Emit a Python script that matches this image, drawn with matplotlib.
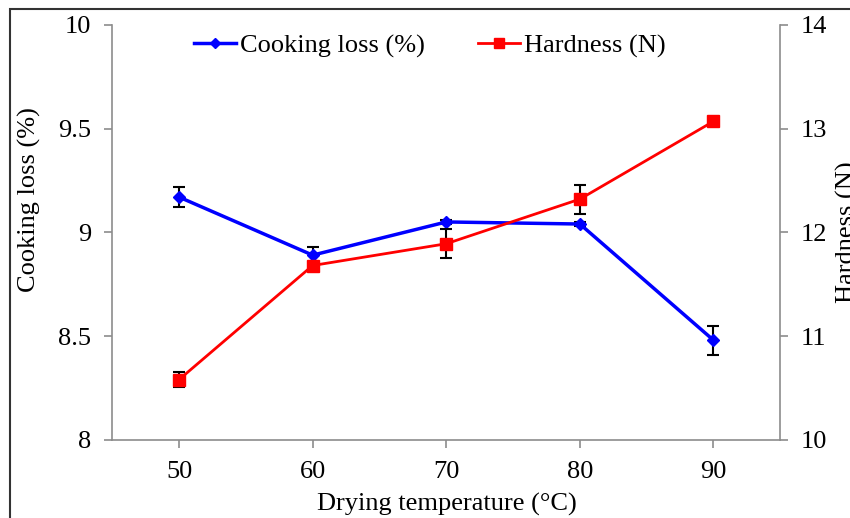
import matplotlib.pyplot as plt
from matplotlib.lines import Line2D
from matplotlib.patches import Rectangle

plt.rcParams['font.family'] = ['Liberation Serif', 'DejaVu Serif']

temps = [50, 60, 70, 80, 90]
cooking_loss = [9.17, 8.89, 9.05, 9.04, 8.48]
cooking_err = [0.05, 0.04, 0.01, 0.01, 0.07]
hardness = [10.58, 11.68, 11.89, 12.32, 13.07]
hardness_err = [0.07, 0.02, 0.14, 0.14, 0.02]

fs = 19
grey = '#8c8c8c'
blue = '#0000ff'
red = '#ff0000'

fig = plt.figure(figsize=(8.5, 5.18), dpi=100)
ax = fig.add_axes([0.132, 0.151, 0.786, 0.801])
ax2 = ax.twinx()

ax.errorbar(temps, cooking_loss, yerr=cooking_err, color=blue, lw=2.5,
            marker='D', ms=6, ecolor='black', elinewidth=1.5, capsize=4,
            capthick=1.5, zorder=3)
ax2.errorbar(temps, hardness, yerr=hardness_err, color=red, lw=2,
             marker='s', ms=8, ecolor='black', elinewidth=1.5, capsize=4,
             capthick=1.5, zorder=3)

ax.set_xlim(45, 95)
ax.set_ylim(8, 10)
ax2.set_ylim(10, 14)
ax.set_xticks(temps)
ax.set_yticks([8, 8.5, 9, 9.5, 10])
ax.set_yticklabels(['8', '8.5', '9', '9.5', '10'])
ax2.set_yticks([10, 11, 12, 13, 14])

for a in (ax, ax2):
    a.spines['top'].set_visible(False)
    for s in ('left', 'right', 'bottom'):
        a.spines[s].set_color(grey)
        a.spines[s].set_linewidth(1.2)
    a.tick_params(direction='out', length=6, width=1.2, color=grey,
                  labelsize=fs, pad=9)
ax.spines['right'].set_visible(False)
ax2.spines['left'].set_visible(False)
ax2.spines['bottom'].set_visible(False)

fig.text(0.526, 0.003, 'Drying temperature (°C)', fontsize=fs,
         ha='center', va='bottom')
fig.text(0.035, 0.615, 'Cooking loss (%)', rotation=90, fontsize=fs,
         ha='center', va='center')
# the reference crops this label at the right edge
fig.text(0.984, 0.552, 'Hardness (N)', rotation=90, fontsize=fs,
         ha='left', va='center')

handles = [Line2D([], [], color=blue, lw=2.5, marker='D', ms=5),
           Line2D([], [], color=red, lw=2, marker='s', ms=7)]
ax.legend(handles, ['Cooking loss (%)', 'Hardness (N)'], loc='upper center',
          ncol=2, frameon=False, fontsize=fs, bbox_to_anchor=(0.475, 1.035),
          handlelength=1.6, handletextpad=0.15, columnspacing=2.0)

fig.patches.append(Rectangle((10 / 850, -0.5), 2, 1.5 - 9 / 518, fill=False,
                             edgecolor='#333333', lw=1.5,
                             transform=fig.transFigure, figure=fig))

fig.savefig('out.png', dpi=100)
